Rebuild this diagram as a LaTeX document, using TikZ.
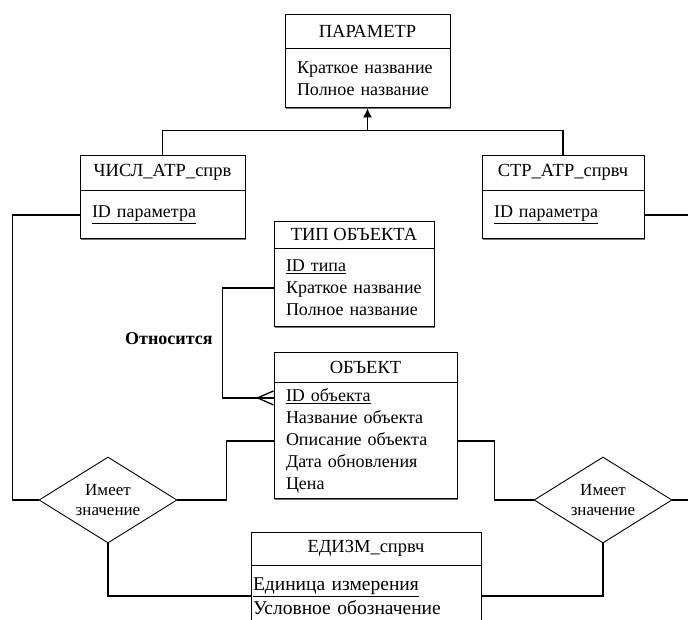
\documentclass[tikz,border=0pt]{standalone}
\usepackage{fontspec}
\setmainfont{Liberation Serif}
\usepackage{tikz}
\usetikzlibrary{shadows,arrows,arrows.meta,positioning,shapes.geometric}
\tikzstyle{head}=[draw, fill=white, line width=0.9pt, text centered, inner sep=0pt,
  font=\fontsize{18.5}{22}\selectfont,
  drop shadow={shadow xshift=1.2pt,shadow yshift=-1.2pt,fill=black!55,opacity=1}]
\tikzstyle{attr}=[head, align=left, inner xsep=12pt, inner ysep=0pt,
  font=\fontsize{18}{22}\selectfont]
\tikzstyle{rel}=[diamond, draw, fill=white, line width=0.9pt, aspect=1.6,
  minimum width=138pt, minimum height=86pt, inner sep=0pt, align=center,
  font=\fontsize{17}{20}\selectfont]
\tikzstyle{line}=[draw, line width=1.3pt]
\tikzstyle{isa}=[line, -{Latex[length=9pt,width=9pt]}]
\newcommand{\ent}[3]{node (#1)[head,#2]{#3}}
\newcommand{\att}[3]{node (#1-b)[attr, below=0pt of #1, #2]{#3}}
\newcommand{\rel}[2]{node (#1)[rel]{#2}}

\begin{document}
\begin{tikzpicture}[x=1pt,y=-1pt,font=\fontsize{18}{22}\selectfont]
	\useasboundingbox (0,0) rectangle (688,619);
	\clip (0,0) rectangle (688,619);

	% entities
	\path (367.5,31) \ent{param}{minimum width=165pt,minimum height=34pt}{ПАРАМЕТР};
	\path \att{param}{text width=141pt,minimum height=59pt}{Краткое название\\Полное название};

	\path (162.5,172.5) \ent{chisl}{minimum width=165pt,minimum height=35pt}{ЧИСЛ\_АТР\_спрв};
	\path \att{chisl}{text width=141pt,minimum height=48pt}{\underline{ID параметра}};

	\path (chisl.center)+(400.5,0) \ent{str}{minimum width=162pt,minimum height=35pt}{СТР\_АТР\_спрвч};
	\path \att{str}{text width=138pt,minimum height=48pt}{\underline{ID параметра}};

	\path (354,234.5) \ent{tip}{minimum width=160pt,minimum height=27pt}{ТИП ОБЪЕКТА};
	\path \att{tip}{text width=136pt,minimum height=78pt}{\underline{ID типа}\\Краткое название\\Полное название};

	\path (365.5,367) \ent{obj}{minimum width=183pt,minimum height=30pt}{ОБЪЕКТ};
	\path \att{obj}{text width=159pt,minimum height=116pt}{\underline{ID объекта}\\Название объекта\\Описание объекта\\Дата обновления\\Цена};

	\path (366,548.5) \ent{edizm}{minimum width=230pt,minimum height=33pt}{ЕДИЗМ\_спрвч};
	\path \att{edizm}{text width=226pt,inner xsep=2pt,minimum height=60pt,
	  font=\fontsize{19.5}{24}\selectfont}{\underline{Единица измерения}\\Условное обозначение};

	% relations
	\path (108,500) \rel{val1}{Имеет\\значение};
	\path (val1.center)+(495,0) \rel{val2}{Имеет\\значение};

	% connectors
	\path [line] (chisl.north) -- ++(0,-24) coordinate (bar) -| (str.north);
	\path [isa] (bar -| param-b.south) -- (param-b.south);

	\coordinate (obj-id) at ([yshift=43pt]obj-b.west);
	\path [line] (tip-b.west) -- ++(-51,0) |- node [pos=0.23,left=6pt,font=\fontsize{18}{22}\selectfont\bfseries] {Относится} (obj-id);
	\path [line] ([xshift=-16pt]obj-id) -- ([yshift=7pt]obj-id)
	             ([xshift=-16pt]obj-id) -- ([yshift=-7pt]obj-id);

	\path [line] (chisl-b.west) -- ++(-67,0) |- (val1.west);
	\path [line] (val1.east) -- ++(49,0) |- (obj-b.west);
	\path [line] (val1.south) |- (edizm-b.west);

	\path [line] (str-b.east) -- ++(46,0) |- (val2.east);
	\path [line] (val2.west) -- ++(-39,0) |- (obj-b.east);
	\path [line] (val2.south) |- (edizm-b.east);
\end{tikzpicture}
\end{document}
